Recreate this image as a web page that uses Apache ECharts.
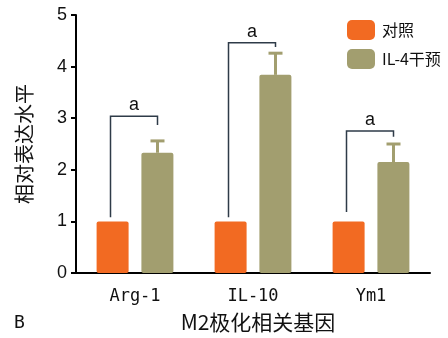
<!DOCTYPE html>
<html>
<head>
<meta charset="utf-8">
<script src="https://cdn.jsdelivr.net/npm/echarts@6/dist/echarts.min.js"></script>
<style>
  html, body { margin: 0; padding: 0; background: #fff; }
  #chart { width: 448px; height: 338px; }
</style>
</head>
<body>
<div id="chart"></div>
<script>
// Gene categories and relative expression levels
var categories = ['Arg-1', 'IL-10', 'Ym1'];
var controlValues = [1.0, 1.0, 1.0];
var il4Values = [2.33, 3.84, 2.15];
var il4ErrorTop = [2.56, 4.26, 2.50];
// Significance brackets: bracket top, left leg end, right leg end
var bracketTop = [3.04, 4.46, 2.75];
var bracketLeftEnd = [1.08, 1.08, 1.18];
var bracketRightEnd = [2.87, 4.38, 2.64];
var yTicks = [0, 1, 2, 3, 4, 5];

var ORANGE = '#F26A22';
var OLIVE = '#A29E6F';
var BAR_W = 32;
var HALF_OFFSET = 22.5; // distance from category centre to each bar centre

var chart = echarts.init(document.getElementById('chart'), null, { renderer: 'canvas' });

var errorData = categories.map(function (c, i) { return [i, il4Values[i], il4ErrorTop[i]]; });
var bracketData = categories.map(function (c, i) {
  return [i, bracketTop[i], bracketLeftEnd[i], bracketRightEnd[i]];
});

chart.setOption({
  animation: false,
  grid: { left: 76, right: 18, top: 15, bottom: 65, containLabel: false, outerBoundsMode: 'none' },
  legend: {
    orient: 'vertical',
    left: 342,
    top: 15,
    itemWidth: 28,
    itemHeight: 20,
    itemGap: 9,
    icon: 'roundRect',
    textStyle: { fontFamily: 'Noto Sans CJK SC', fontSize: 16, color: '#111', padding: [0, 0, 0, 2] },
    data: ['对照', 'IL-4干预']
  },
  xAxis: {
    type: 'category',
    data: categories,
    name: 'M2极化相关基因',
    nameLocation: 'middle',
    nameGap: 39,
    nameTextStyle: { fontFamily: 'Noto Sans CJK SC', fontSize: 21, color: '#111', padding: [0, 0, 0, 10] },
    axisLine: { lineStyle: { color: '#000', width: 2 } },
    axisTick: { alignWithLabel: true, length: 5, lineStyle: { color: '#000', width: 2 } },
    axisLabel: { fontFamily: 'DejaVu Sans Mono', fontSize: 17, color: '#111', margin: 15 }
  },
  yAxis: {
    type: 'value',
    min: 0,
    max: 5,
    interval: 1,
    name: '相对表达水平',
    nameLocation: 'middle',
    nameRotate: 90,
    nameGap: 42,
    nameTextStyle: { fontFamily: 'Noto Sans CJK SC', fontSize: 20, color: '#111' },
    axisLine: { show: true, lineStyle: { color: '#000', width: 2 } },
    axisTick: { show: true, length: 5, lineStyle: { color: '#000', width: 2 } },
    axisLabel: {
      fontFamily: 'Liberation Sans', fontSize: 18, color: '#111', margin: 9,
      formatter: function (v) { return yTicks.indexOf(v) >= 0 ? String(v) : ''; }
    },
    splitLine: { show: false }
  },
  series: [
    {
      name: '对照',
      type: 'bar',
      data: controlValues,
      barWidth: BAR_W,
      barGap: '40%',
      itemStyle: { color: ORANGE, borderRadius: 2 }
    },
    {
      name: 'IL-4干预',
      type: 'bar',
      data: il4Values,
      barWidth: BAR_W,
      itemStyle: { color: OLIVE, borderRadius: 2 }
    },
    {
      // upward error bars on the IL-4 bars
      type: 'custom',
      data: errorData,
      z: 3,
      renderItem: function (params, api) {
        var base = api.coord([api.value(0), api.value(1)]);
        var top = api.coord([api.value(0), api.value(2)]);
        var x = base[0] + HALF_OFFSET;
        return {
          type: 'group',
          children: [
            { type: 'line', shape: { x1: x, y1: base[1], x2: x, y2: top[1] }, style: { stroke: OLIVE, lineWidth: 3 } },
            { type: 'line', shape: { x1: x - 7, y1: top[1], x2: x + 7, y2: top[1] }, style: { stroke: OLIVE, lineWidth: 3 } }
          ]
        };
      }
    },
    {
      // significance brackets with their labels
      type: 'custom',
      data: bracketData,
      z: 4,
      renderItem: function (params, api) {
        var c = api.coord([api.value(0), api.value(1)]);
        var l = api.coord([api.value(0), api.value(2)]);
        var r = api.coord([api.value(0), api.value(3)]);
        var xl = c[0] - HALF_OFFSET - 2;
        var xr = c[0] + HALF_OFFSET;
        return {
          type: 'group',
          children: [
            {
              type: 'polyline',
              shape: { points: [[xl, l[1]], [xl, c[1]], [xr, c[1]], [xr, r[1]]] },
              style: { stroke: '#2E3B48', lineWidth: 1.5, fill: null }
            },
            {
              type: 'text',
              style: {
                x: (xl + xr) / 2, y: c[1] - 2, text: 'a',
                textAlign: 'center', textVerticalAlign: 'bottom',
                font: '18px "Liberation Sans"', fill: '#111'
              }
            }
          ]
        };
      }
    }
  ],
  graphic: [
    {
      type: 'text',
      left: 14,
      top: 314,
      style: { text: 'B', font: '18px "DejaVu Sans Mono"', fill: '#111' }
    }
  ]
});
</script>
</body>
</html>
